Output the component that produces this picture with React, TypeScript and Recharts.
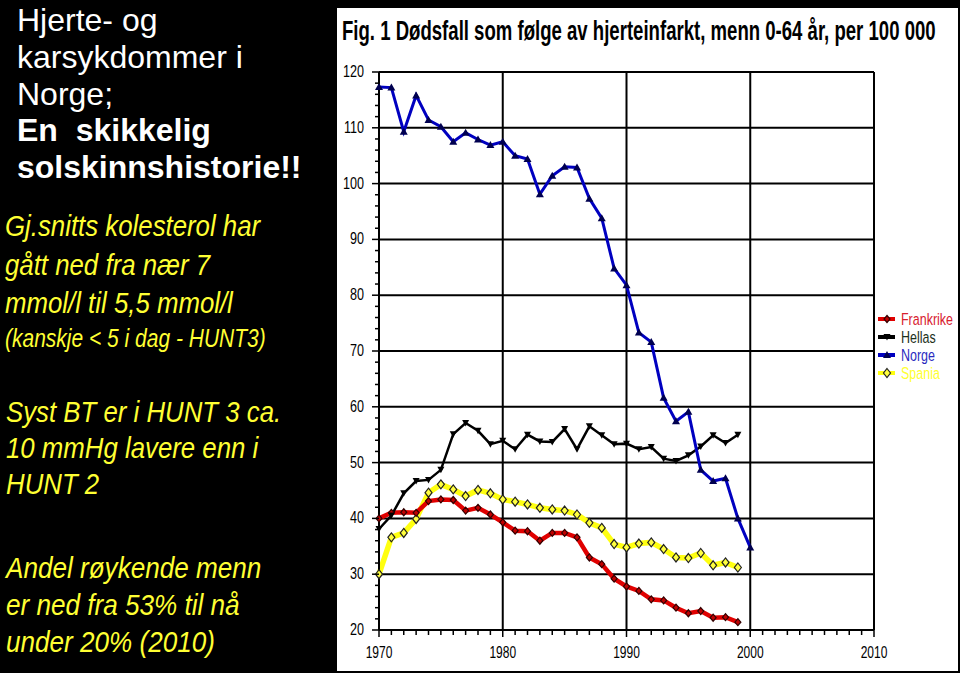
import React from 'react';
import { LineChart, Line, XAxis, YAxis, ReferenceLine, Legend } from 'recharts';

// ---------- data ----------
const years = [1970, 1971, 1972, 1973, 1974, 1975, 1976, 1977, 1978, 1979, 1980, 1981, 1982, 1983, 1984, 1985, 1986, 1987, 1988, 1989, 1990, 1991, 1992, 1993, 1994, 1995, 1996, 1997, 1998, 1999, 2000];
const frankrike = [40.0, 41.0, 41.1, 41.0, 43.1, 43.4, 43.3, 41.4, 41.9, 40.7, 39.3, 37.8, 37.7, 36.0, 37.4, 37.4, 36.6, 33.0, 31.8, 29.2, 27.8, 27.0, 25.5, 25.3, 24.0, 23.0, 23.4, 22.2, 22.3, 21.4];
const hellas = [38.1, 40.5, 44.5, 46.7, 46.9, 48.7, 55.1, 57.1, 55.7, 53.3, 53.9, 52.4, 55.0, 53.8, 53.7, 56.0, 52.4, 56.5, 54.9, 53.3, 53.4, 52.4, 52.8, 50.7, 50.3, 51.3, 52.9, 54.9, 53.5, 55.0];
const norge = [117.3, 117.2, 109.3, 115.8, 111.4, 110.2, 107.5, 109.1, 107.9, 106.9, 107.5, 105.0, 104.4, 98.1, 101.4, 103.0, 102.9, 97.3, 93.8, 84.8, 81.8, 73.3, 71.6, 61.6, 57.4, 59.1, 48.7, 46.7, 47.2, 40.0, 34.8];
const spania = [30.0, 36.6, 37.4, 39.9, 44.6, 46.1, 45.2, 44.0, 45.1, 44.5, 43.4, 43.0, 42.5, 41.9, 41.6, 41.4, 40.7, 39.2, 38.3, 35.4, 34.8, 35.5, 35.7, 34.5, 33.0, 32.9, 33.8, 31.6, 32.1, 31.2];

const seriesNames = ['Frankrike', 'Hellas', 'Norge', 'Spania'];
const xMajorTicks = [1970, 1980, 1990, 2000, 2010];
const yMajorTicks = [20, 30, 40, 50, 60, 70, 80, 90, 100, 110, 120];
const xMinorTicks = Array.from({ length: 41 }, (_, i) => 1970 + i);
const yMinorTicks = Array.from({ length: 51 }, (_, i) => 20 + i * 2);

const chartTitle = 'Fig. 1 Dødsfall som følge av hjerteinfarkt, menn 0-64 år, per 100 000';
const headLines = ['Hjerte- og', 'karsykdommer i', 'Norge;'];
const headBold = ['En  skikkelig', 'solskinnshistorie!!'];
const noteA = ['Gj.snitts kolesterol har', 'gått ned fra nær 7', 'mmol/l til 5,5 mmol/l'];
const noteA2 = '(kanskje < 5 i dag - HUNT3)';
const noteB = ['Syst BT er i HUNT 3 ca.', '10 mmHg lavere enn i', 'HUNT 2'];
const noteC = ['Andel røykende menn', 'er ned fra 53% til nå', 'under 20% (2010)'];

const rows = years.map((y, i) => ({
  year: y,
  Frankrike: frankrike[i],
  Hellas: hellas[i],
  Norge: norge[i],
  Spania: spania[i],
}));

// ---------- styles ----------
const ARIAL = '"Liberation Sans", Arial, sans-serif';

const lineColor: Record<string, string> = {
  Frankrike: '#e00000',
  Hellas: '#000000',
  Norge: '#0000c0',
  Spania: '#ffff10',
};
const lineWidth: Record<string, number> = { Frankrike: 4.5, Hellas: 2.5, Norge: 3, Spania: 5.5 };
const legendText: Record<string, string> = {
  Frankrike: '#d8202e',
  Hellas: '#1c301c',
  Norge: '#2a2ac0',
  Spania: '#ffff30',
};

function marker(name: string, cx: number, cy: number, key?: any) {
  if (name === 'Norge') {
    return <path key={key} d={`M${cx},${cy - 4} L${cx + 4},${cy + 3} L${cx - 4},${cy + 3} Z`} fill="#000050" />;
  }
  if (name === 'Hellas') {
    return <path key={key} d={`M${cx - 3.5},${cy - 3} L${cx + 3.5},${cy - 3} L${cx},${cy + 3.5} Z`} fill="#000" />;
  }
  if (name === 'Frankrike') {
    return <path key={key} d={`M${cx},${cy - 3.5} L${cx + 3},${cy} L${cx},${cy + 3.5} L${cx - 3},${cy} Z`} fill="#c00000" stroke="#300" strokeWidth={1.2} />;
  }
  return <path key={key} d={`M${cx},${cy - 4.5} L${cx + 3.5},${cy} L${cx},${cy + 4.5} L${cx - 3.5},${cy} Z`} fill="#ffff40" stroke="#222" strokeWidth={1.2} />;
}

const makeDot = (name: string) => (props: any) => {
  const { cx, cy, value, index } = props;
  if (cx == null || cy == null || value == null || Number.isNaN(cy)) return <g key={`${name}-${index}`} />;
  return marker(name, cx, cy, `${name}-${index}`);
};

const XTick = (props: any) => {
  const { x, y, payload } = props;
  const v = payload.value;
  const major = v % 10 === 0;
  return (
    <g>
      <line x1={x} x2={x} y1={y} y2={y + (major ? 7 : 5)} stroke="#000" strokeWidth={1.5} />
      {major && (
        <text
          transform={`translate(${x},${y + 28}) scale(0.8,1.1)`}
          textAnchor="middle"
          fontSize={15}
          fontFamily={ARIAL}
          fill="#000"
        >
          {v}
        </text>
      )}
    </g>
  );
};

const YTick = (props: any) => {
  const { x, y, payload } = props;
  const v = payload.value;
  const major = v % 10 === 0;
  return (
    <g>
      <line x1={x - (major ? 7 : 4)} x2={x} y1={y} y2={y} stroke="#000" strokeWidth={1.5} />
      {major && (
        <text
          transform={`translate(${x - 15},${y + 5}) scale(0.84,1.1)`}
          textAnchor="end"
          fontSize={15}
          fontFamily={ARIAL}
          fill="#000"
        >
          {v}
        </text>
      )}
    </g>
  );
};

const LegendContent = (props: any) => {
  const payload = [...(props.payload || [])].sort(
    (a: any, b: any) => seriesNames.indexOf(a.value) - seriesNames.indexOf(b.value)
  );
  return (
    <svg width={80} height={76}>
      {payload.map((p: any, i: number) => {
        const cy = 9 + i * 18;
        return (
          <g key={p.value}>
            <line x1={0} x2={17} y1={cy} y2={cy} stroke={lineColor[p.value]} strokeWidth={4} />
            {marker(p.value, 9, cy)}
            <text
              transform={`translate(23,${cy + 6}) scale(0.78,1.08)`}
              fontSize={16}
              fontFamily={ARIAL}
              fill={legendText[p.value]}
            >
              {p.value}
            </text>
          </g>
        );
      })}
    </svg>
  );
};

export default function App() {
  const white = { fill: '#ffffff', fontFamily: ARIAL, fontSize: 32 };
  const yellow = { fill: '#ffff33', fontFamily: ARIAL, fontSize: 30, fontStyle: 'italic' as const };

  const line = (t: string, x: number, y: number, props: any, key: string, sx = 1) => (
    <text key={key} transform={`translate(${x},${y}) scale(${sx},1)`} {...props} style={{ whiteSpace: 'pre' }}>
      {t}
    </text>
  );

  return (
    <div style={{ position: 'fixed', left: 0, top: 0, width: 960, height: 673, background: '#000', overflow: 'hidden' }}>
      <svg width={337} height={673} style={{ position: 'absolute', left: 0, top: 0 }}>
        {headLines.map((t, i) => line(t, 17, [30.5, 67.5, 104.5][i], white, 'h' + i))}
        {headBold.map((t, i) => line(t, 17, [141, 178][i], { ...white, fontWeight: 'bold' }, 'b' + i))}
        {noteA.map((t, i) => line(t, 5, [236, 274.5, 313][i], yellow, 'a' + i, 0.86))}
        {line(noteA2, 5, 347, { ...yellow, fontSize: 25 }, 'a3', 0.84)}
        {noteB.map((t, i) => line(t, 6, [421.5, 458, 494][i], yellow, 'bb' + i, 0.86))}
        {noteC.map((t, i) => line(t, 6, [578, 615, 652][i], yellow, 'c' + i, 0.87))}
      </svg>

      <div style={{ position: 'absolute', left: 337, top: 8, width: 621, height: 663, background: '#fff' }}>
        <svg width={621} height={60} style={{ position: 'absolute', left: 0, top: 0 }}>
          <text
            transform="translate(5,32) scale(0.715,1.04)"
            fontSize={26}
            fontWeight="bold"
            fontFamily={ARIAL}
            fill="#000"
          >
            {chartTitle}
          </text>
        </svg>
        <div style={{ position: 'absolute', left: 0, top: 0 }}>
          <LineChart width={621} height={663} data={rows} margin={{ top: 64, right: 84, bottom: 0, left: 0 }}>
            <XAxis
              dataKey="year"
              type="number"
              domain={[1970, 2010]}
              ticks={xMinorTicks}
              interval={0}
              tickSize={0}
              tickMargin={0}
              tick={XTick}
              height={41}
              axisLine={{ stroke: '#000', strokeWidth: 2 }}
            />
            <YAxis
              type="number"
              domain={[20, 120]}
              ticks={yMinorTicks}
              interval={0}
              tickSize={0}
              tickMargin={0}
              tick={YTick}
              width={42}
              axisLine={{ stroke: '#000', strokeWidth: 2 }}
            />
            {yMajorTicks.slice(1).map((v) => (
              <ReferenceLine key={'gy' + v} y={v} stroke="#000" strokeWidth={2} />
            ))}
            {xMajorTicks.slice(1).map((v) => (
              <ReferenceLine key={'gx' + v} x={v} stroke="#000" strokeWidth={2} />
            ))}
            <Legend
              layout="vertical"
              align="center"
              verticalAlign="middle"
              content={LegendContent}
              wrapperStyle={{ left: 541, top: 302, width: 80, height: 76 }}
            />
            {['Spania', 'Frankrike', 'Hellas', 'Norge'].map((name) => (
              <Line
                key={name}
                dataKey={name}
                name={name}
                stroke={lineColor[name]}
                strokeWidth={lineWidth[name]}
                dot={makeDot(name)}
                activeDot={false}
                isAnimationActive={false}
                type="linear"
              />
            ))}
          </LineChart>
        </div>
      </div>
    </div>
  );
}
